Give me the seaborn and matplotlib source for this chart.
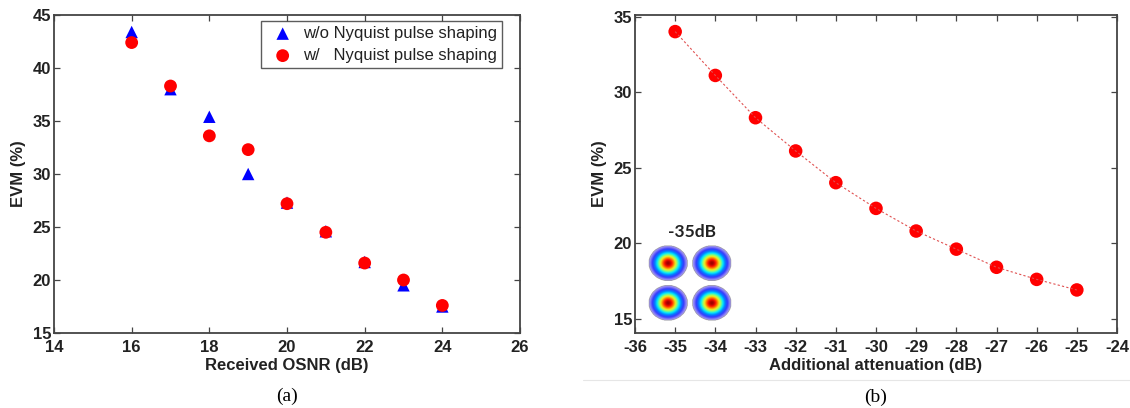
import numpy as np
import pandas as pd
import matplotlib
matplotlib.use("Agg")
import matplotlib.pyplot as plt
from matplotlib.lines import Line2D
from matplotlib.colors import LinearSegmentedColormap
import seaborn as sns

sns.set_theme(style="white")
plt.rcParams['font.family'] = ['Liberation Sans', 'DejaVu Sans']
plt.rcParams['axes.unicode_minus'] = False

# ---- data (a) ----
osnr = [16, 17, 18, 19, 20, 21, 22, 23, 24]
evm_without = [43.4, 38.0, 35.4, 30.0, 27.3, 24.6, 21.7, 19.5, 17.5]
evm_with = [42.4, 38.3, 33.6, 32.3, 27.2, 24.5, 21.6, 20.0, 17.6]
label_without = "w/o Nyquist pulse shaping"
label_with = "w/   Nyquist pulse shaping"

# ---- data (b) ----
attenuation = [-35, -34, -33, -32, -31, -30, -29, -28, -27, -26, -25]
evm_att = [34.0, 31.1, 28.3, 26.1, 24.0, 22.3, 20.8, 19.6, 18.4, 17.6, 16.9]

xticks_a = [14, 16, 18, 20, 22, 24, 26]
yticks_a = [15, 20, 25, 30, 35, 40, 45]
xticks_b = list(range(-36, -23))
yticks_b = [15, 20, 25, 30, 35]

W, H = 1130, 408
fig = plt.figure(figsize=(W / 100, H / 100), dpi=100)
fig.patch.set_facecolor("white")

def box(x0, y0, x1, y1):
    return [x0 / W, 1 - y1 / H, (x1 - x0) / W, (y1 - y0) / H]

ax1 = fig.add_axes(box(54, 15, 520, 333))
ax2 = fig.add_axes(box(635, 15, 1117, 333))

TXT = "#222222"

def style(ax):
    ax.set_facecolor("white")
    for s in ax.spines.values():
        s.set_color("#444444")
        s.set_linewidth(1.3)
    ax.tick_params(axis="both", direction="in", length=4, width=0.9, top=True, right=True,
                   bottom=True, left=True, labelsize=12, colors="#444444",
                   labelcolor=TXT)
    ax.tick_params(axis="x", pad=5)
    ax.tick_params(axis="y", pad=2)
    for lbl in ax.get_xticklabels() + ax.get_yticklabels():
        lbl.set_fontweight("bold")
    ax.grid(False)

# ---- panel (a) ----
dfa = pd.DataFrame({"osnr": osnr * 2,
                    "evm": evm_without + evm_with,
                    "series": [label_without] * len(osnr) + [label_with] * len(osnr)})
sns.scatterplot(data=dfa[dfa.series == label_without], x="osnr", y="evm",
                marker="^", color="#0000ff", s=80, edgecolor="none", ax=ax1,
                label=label_without)
sns.scatterplot(data=dfa[dfa.series == label_with], x="osnr", y="evm",
                marker="o", color="#ff0000", s=85, edgecolor="none", ax=ax1,
                label=label_with)
ax1.set_xlim(14, 26)
ax1.set_ylim(15, 45)
ax1.set_xticks(xticks_a)
ax1.set_yticks(yticks_a)
ax1.set_xlabel("Received OSNR (dB)", fontsize=12, fontweight="bold", color=TXT, labelpad=2)
ax1.set_ylabel("EVM (%)", fontsize=12, fontweight="bold", color=TXT, labelpad=5)
style(ax1)
leg = ax1.legend(loc="upper left", bbox_to_anchor=((261 - 54) / 466, (333 - 21) / 318),
                 borderaxespad=0.0, frameon=True,
                 fancybox=False, edgecolor="#333333", fontsize=12,
                 handletextpad=0.2, borderpad=0.3, labelspacing=0.42,
                 handlelength=2.0, markerscale=1.0)
leg.get_frame().set_linewidth(1.0)
for t in leg.get_texts():
    t.set_color(TXT)

# ---- panel (b) ----
dfb = pd.DataFrame({"att": attenuation, "evm": evm_att})
sns.lineplot(data=dfb, x="att", y="evm", color="#e05050", linewidth=0.8,
             linestyle=(0, (2, 2)), ax=ax2)
sns.scatterplot(data=dfb, x="att", y="evm", marker="o", color="#ff0000",
                s=95, edgecolor="none", ax=ax2)
ax2.set_xlim(-36, -24)
ax2.set_ylim(14.05, 35.1)
ax2.set_xticks(xticks_b)
ax2.set_yticks(yticks_b)
ax2.set_xlabel("Additional attenuation (dB)", fontsize=12, fontweight="bold", color=TXT, labelpad=2)
ax2.set_ylabel("EVM (%)", fontsize=12, fontweight="bold", color=TXT, labelpad=5)
style(ax2)

# ---- constellation inset (deterministic density illustration) ----
axi = fig.add_axes(box(646, 243, 734, 323))
g = np.linspace(-2, 2, 200)
X, Y = np.meshgrid(g, g)
Z = np.zeros_like(X)
for cx in (-1, 1):
    for cy in (-1, 1):
        Z += np.exp(-((X - cx) ** 2 + (Y - cy) ** 2) / (2 * 0.31 ** 2))
Z = (Z / Z.max()) ** 0.6
Zm = np.ma.masked_less(Z, 0.09)
cmap = LinearSegmentedColormap.from_list(
    "constel",
    [(0.0, "#ece6ff"), (0.1, "#a498f0"), (0.2, "#3838ff"), (0.32, "#0080ff"),
     (0.45, "#00e8ff"), (0.58, "#80ff80"), (0.7, "#f0f020"), (0.82, "#ff8000"),
     (0.92, "#ff1000"), (1.0, "#a00000")])
axi.imshow(Zm, cmap=cmap, origin="lower", extent=(-2, 2, -2, 2),
           interpolation="bilinear", vmin=0.0, vmax=1.0, aspect="auto")
axi.set_axis_off()
fig.text(692 / W, 1 - 232 / H, "-35dB", fontsize=12.5, fontweight="bold",
         ha="center", va="center", color=TXT, family=["Lato", "DejaVu Sans"])

# ---- captions ----
fig.text(287 / W, 1 - 396 / H, "(a)", fontsize=14, ha="center", va="center",
         family=["Liberation Serif", "DejaVu Serif"], color="black")
fig.text(876 / W, 1 - 397 / H, "(b)", fontsize=14, ha="center", va="center",
         family=["Liberation Serif", "DejaVu Serif"], color="black")
fig.add_artist(Line2D([583 / W, 1.0], [1 - 380 / H, 1 - 380 / H],
                      transform=fig.transFigure, color="#e6e6e6", linewidth=0.8))

fig.savefig("out.png", dpi=100, facecolor="white")
